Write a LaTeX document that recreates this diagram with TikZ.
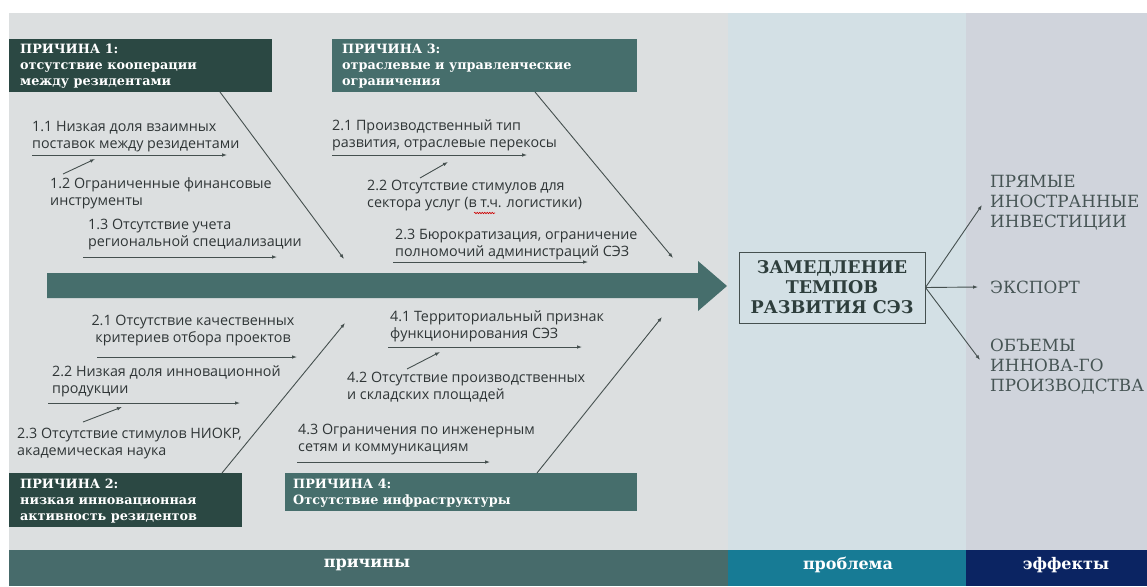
\documentclass[tikz,border=0pt]{standalone}
\usepackage{fontspec}
\usetikzlibrary{arrows.meta,decorations.pathmorphing}
\newfontfamily\hfont{DejaVu Serif}
\newfontfamily\bfont{Open Sans}
\definecolor{bgc}{HTML}{DCDFE0}
\definecolor{bgp}{HTML}{D3E0E5}
\definecolor{bge}{HTML}{D0D4DC}
\definecolor{boxdark}{HTML}{2B4843}
\definecolor{boxmid}{HTML}{466E6C}
\definecolor{bandc}{HTML}{476B6B}
\definecolor{bandp}{HTML}{177B95}
\definecolor{bande}{HTML}{0B2462}
\definecolor{linec}{HTML}{45504F}
\definecolor{txt}{HTML}{2F3536}
\definecolor{probtxt}{HTML}{2E3E3C}
\definecolor{efftxt}{HTML}{465454}
\tikzset{
  sub/.style={font=\bfont\fontsize{14.3}{17}\selectfont, text=txt, inner sep=0pt, align=left, anchor=west},
  head/.style={font=\hfont\bfseries\fontsize{12.8}{16}\selectfont, text=white, inner sep=0pt, align=left, anchor=west},
  conn/.style={draw=linec, line width=0.9pt, -{Latex[length=5pt,width=3.6pt]}},
  band/.style={font=\hfont\bfseries\fontsize{16}{18}\selectfont, text=white, inner sep=0pt},
  eff/.style={font=\hfont\fontsize{16.8}{20}\selectfont, text=efftxt, inner sep=0pt, align=left, anchor=west},
}
\begin{document}
\begin{tikzpicture}[x=1pt,y=-1pt]
\useasboundingbox (0,0) rectangle (1147,586);
\fill[white] (0,0) rectangle (1147,586);
% backgrounds
\fill[bgc] (9,13) rectangle (728,550);
\fill[bgp] (728,13) rectangle (966,550);
\fill[bge] (966,13) rectangle (1147,550);
\fill[bandc] (9,550) rectangle (728,586);
\fill[bandp] (728,550) rectangle (966,586);
\fill[bande] (966,550) rectangle (1147,586);
\node[band] (lc) at (367,565) {причины};
\node[band] (lp) at (848,565) {проблема};
\node[band] (le) at (1066,565) {эффекты};
% main arrow
\fill[boxmid] (47,273) -- (698,273) -- (698,261) -- (727,286) -- (698,311) -- (698,298) -- (47,298) -- cycle;
\coordinate (spine) at (727,286);
% cause boxes
\fill[boxdark] (9,39) rectangle (272,92);
\fill[boxmid] (332,39) rectangle (637,92);
\fill[boxdark] (9,473) rectangle (242,527);
\fill[boxmid] (285,473) rectangle (637,511);
\node[head] (h1) at (20,66) {ПРИЧИНА 1:\\отсутствие кооперации\\между резидентами};
\node[head] (h3) at (342,66) {ПРИЧИНА 3:\\отраслевые и управленческие\\ограничения};
\node[head] (h2) at (20,501) {ПРИЧИНА 2:\\низкая инновационная\\активность резидентов};
\node[head] (h4) at (293,493) {ПРИЧИНА 4:\\Отсутствие инфраструктуры};
% diagonals
\coordinate (d1s) at (220,92);  \coordinate (d1e) at (344,259);
\coordinate (d3s) at (535,92);  \coordinate (d3e) at (673,258);
\coordinate (d2s) at (222,473); \coordinate (d2e) at (345,323);
\coordinate (d4s) at (537,473); \coordinate (d4e) at (662,317);
\draw[conn] (d1s) -- (d1e);
\draw[conn] (d3s) -- (d3e);
\draw[conn] (d2s) -- (d2e);
\draw[conn] (d4s) -- (d4e);
% top-left sub causes
\node[sub] (t11) at (32,137) {1.1 Низкая доля взаимных\\поставок между резидентами};
\coordinate (a11s) at (32,155); \coordinate (a11e) at (227,155);
\draw[conn] (a11s) -- (a11e);
\node[sub] (t12) at (50,193) {1.2 Ограниченные финансовые\\инструменты};
\coordinate (a12s) at (63,174); \coordinate (a12e) at (95,159);
\draw[conn] (a12s) -- (a12e);
\node[sub] (t13) at (88,235) {1.3 Отсутствие учета\\региональной специализации};
\coordinate (a13s) at (83,257); \coordinate (a13e) at (277,257);
\draw[conn] (a13s) -- (a13e);
% top-middle sub causes
\node[sub] (t21) at (332,135) {2.1 Производственный тип\\развития, отраслевые перекосы};
\coordinate (a21s) at (332,155); \coordinate (a21e) at (527,155);
\draw[conn] (a21s) -- (a21e);
\node[sub] (t22) at (367,196) {2.2 Отсутствие стимулов для\\сектора услуг (в т.ч. логистики)};
\coordinate (a22s) at (420,178); \coordinate (a22e) at (448,162);
\draw[conn] (a22s) -- (a22e);
\coordinate (w1) at (474,213); \coordinate (w2) at (495,213);
\draw[red!80!black, line width=0.6pt, decorate, decoration={snake, amplitude=0.7pt, segment length=2.5pt}] (w1) -- (w2);
\node[sub] (t23) at (395,245) {2.3 Бюрократизация, ограничение\\полномочий администраций СЭЗ};
\coordinate (a23s) at (393,262); \coordinate (a23e) at (588,262);
\draw[conn] (a23s) -- (a23e);
% bottom-left sub causes
\node[sub, align=center, anchor=center] (b21) at (193,331) {2.1 Отсутствие качественных\\критериев отбора проектов};
\coordinate (c21s) at (97,357); \coordinate (c21e) at (297,357);
\draw[conn] (c21s) -- (c21e);
\node[sub] (b22) at (52,381) {2.2 Низкая доля инновационной\\продукции};
\coordinate (c22s) at (48,403); \coordinate (c22e) at (240,403);
\draw[conn] (c22s) -- (c22e);
\coordinate (c23s) at (83,422); \coordinate (c23e) at (122,407);
\draw[conn] (c23s) -- (c23e);
\node[sub] (b23) at (17,444) {2.3 Отсутствие стимулов НИОКР,\\академическая наука};
% bottom-middle sub causes
\node[sub] (b41) at (390,326) {4.1 Территориальный признак\\функционирования СЭЗ};
\coordinate (c41s) at (388,347); \coordinate (c41e) at (582,347);
\draw[conn] (c41s) -- (c41e);
\coordinate (c42s) at (407,369); \coordinate (c42e) at (440,352);
\draw[conn] (c42s) -- (c42e);
\node[sub] (b42) at (347,387) {4.2 Отсутствие производственных\\и складских площадей};
\node[sub] (b43) at (298,440) {4.3 Ограничения по инженерным\\сетям и коммуникациям};
\coordinate (c43s) at (297,462); \coordinate (c43e) at (490,462);
\draw[conn] (c43s) -- (c43e);
% problem
\node[draw=linec, line width=0.9pt, minimum width=186pt, minimum height=71pt, inner sep=0pt,
      font=\hfont\bfseries\fontsize{17.5}{20}\selectfont, text=probtxt, align=center] (prob) at (832,287.5)
      {ЗАМЕДЛЕНИЕ\\ТЕМПОВ\\РАЗВИТИЯ СЭЗ};
% effects
\node[eff] (e1) at (990,203) {ПРЯМЫЕ\\ИНОСТРАННЫЕ\\ИНВЕСТИЦИИ};
\node[eff] (e2) at (990,287) {ЭКСПОРТ};
\node[eff] (e3) at (990,367) {ОБЪЕМЫ\\ИННОВА-ГО\\ПРОИЗВОДСТВА};
\coordinate (f1) at (982,205);
\coordinate (f2) at (978,287);
\coordinate (f3) at (980,360);
\draw[conn] (prob.east) -- (f1);
\draw[conn] (prob.east) -- (f2);
\draw[conn] (prob.east) -- (f3);
\end{tikzpicture}
\end{document}
